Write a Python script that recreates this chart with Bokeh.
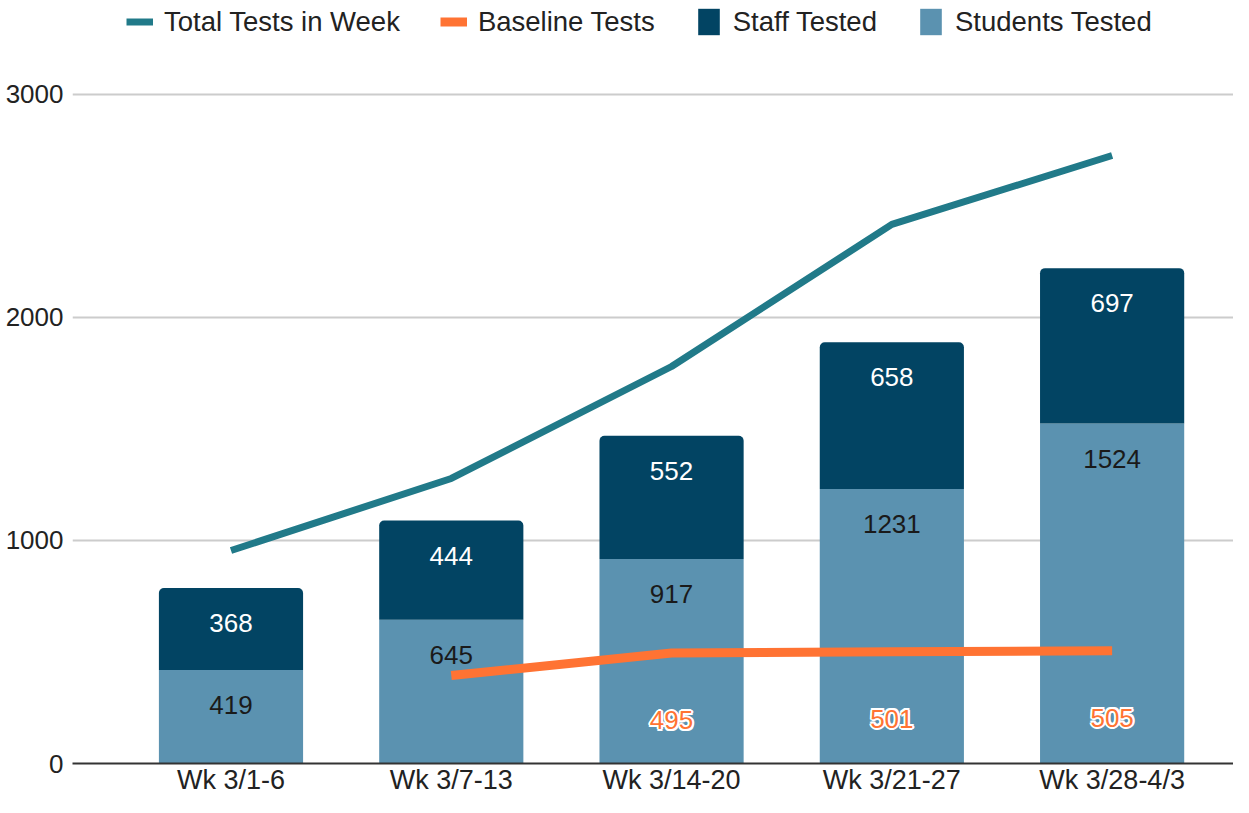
from bokeh.plotting import figure
from bokeh.models import ColumnDataSource, FixedTicker, Legend, LegendItem, Range1d
from bokeh.core.properties import value
from bokeh.embed import file_html
from bokeh.resources import INLINE

# ---- data ----
weeks = ["Wk 3/1-6", "Wk 3/7-13", "Wk 3/14-20", "Wk 3/21-27", "Wk 3/28-4/3"]
students_tested = [419, 645, 917, 1231, 1524]
staff_tested = [368, 444, 552, 658, 697]
total_tests = [955, 1278, 1780, 2417, 2726]
baseline_tests = [None, 395, 495, 501, 505]
baseline_labeled = [False, False, True, True, True]
y_ticks = [0, 1000, 2000, 3000]

# ---- styles ----
FONT = "Liberation Sans"
C_STAFF = "#024463"
C_STUD = "#5b92b0"
C_TOTAL = "#217a89"
C_BASE = "#ff7333"

x = list(range(len(weeks)))
stud_top = students_tested
staff_top = [s + t for s, t in zip(students_tested, staff_tested)]

src = ColumnDataSource(dict(
    x=x, stud=students_tested, staff=staff_tested,
    stud_top=stud_top, staff_top=staff_top,
    stud_lbl=[str(v) for v in students_tested],
    staff_lbl=[str(v) for v in staff_tested],
))

p = figure(width=1233, height=797, output_backend="svg", toolbar_location=None,
           x_range=Range1d(-0.7195, 4.551), y_range=Range1d(0, 3421),
           min_border_left=72, min_border_right=0, min_border_top=0, min_border_bottom=0)
p.outline_line_color = None
p.background_fill_color = "white"

bw = 0.6545
r_stud = p.vbar(x="x", bottom=0, top="stud_top", width=bw, source=src,
                fill_color=C_STUD, line_color=None)
r_staff = p.vbar(x="x", bottom="stud_top", top="staff_top", width=bw, source=src,
                 fill_color=C_STAFF, line_color=None, border_radius=(5, 5, 0, 0))

# bar labels (inside end)
p.text(x="x", y="staff_top", text="staff_lbl", source=src, y_offset=35,
       text_align="center", text_baseline="middle", text_color="white",
       text_font=value(FONT), text_font_size="26px")
p.text(x="x", y="stud_top", text="stud_lbl", source=src, y_offset=35,
       text_align="center", text_baseline="middle", text_color="#1a1a1a",
       text_font=value(FONT), text_font_size="26px")

# lines
r_total = p.line(x=x, y=total_tests, line_color=C_TOTAL, line_width=7)
bx = [xi for xi, v in zip(x, baseline_tests) if v is not None]
by = [v for v in baseline_tests if v is not None]
r_base = p.line(x=bx, y=by, line_color=C_BASE, line_width=9)

# baseline labels with white halo
lx = [xi for xi, v, f in zip(x, baseline_tests, baseline_labeled) if f]
ly = [v for v, f in zip(baseline_tests, baseline_labeled) if f]
lt = [str(v) for v in ly]
lsrc = ColumnDataSource(dict(x=lx, y=ly, t=lt))
for dx, dy in [(-2, 0), (2, 0), (0, -2), (0, 2), (-1.5, -1.5), (1.5, -1.5), (-1.5, 1.5), (1.5, 1.5)]:
    p.text(x="x", y="y", text="t", source=lsrc, x_offset=dx, y_offset=67 + dy,
           text_align="center", text_baseline="middle", text_color="white",
           text_font=value(FONT), text_font_size="26px")
p.text(x="x", y="y", text="t", source=lsrc, y_offset=67,
       text_align="center", text_baseline="middle", text_color=C_BASE,
       text_font=value(FONT), text_font_size="26px")

# axes
p.xaxis.ticker = FixedTicker(ticks=x)
p.xaxis.major_label_overrides = {i: w for i, w in enumerate(weeks)}
p.xaxis.major_label_text_font = FONT
p.xaxis.major_label_text_font_size = "27px"
p.xaxis.major_label_text_color = "#222222"
p.xaxis.major_label_standoff = 1
p.xaxis.major_tick_out = 0
p.xaxis.major_tick_in = 0
p.xaxis.major_tick_line_color = None
p.xaxis.minor_tick_line_color = None
p.xaxis.axis_line_color = "#333333"
p.xaxis.axis_line_width = 2

p.yaxis.ticker = FixedTicker(ticks=y_ticks)
p.yaxis.major_label_text_font = FONT
p.yaxis.major_label_text_font_size = "26px"
p.yaxis.major_label_text_color = "#222222"
p.yaxis.major_label_standoff = 9
p.yaxis.major_tick_out = 0
p.yaxis.major_tick_in = 0
p.yaxis.major_tick_line_color = None
p.yaxis.minor_tick_line_color = None
p.yaxis.axis_line_color = None

p.xgrid.grid_line_color = None
p.ygrid.grid_line_color = "#cccccc"
p.ygrid.grid_line_width = 2

legend = Legend(items=[
    LegendItem(label="Total Tests in Week", renderers=[r_total]),
    LegendItem(label="Baseline Tests", renderers=[r_base]),
    LegendItem(label="Staff Tested", renderers=[r_staff]),
    LegendItem(label="Students Tested", renderers=[r_stud]),
], orientation="horizontal", location=(54, 725), padding=0, margin=0,
    spacing=40, label_standoff=11, glyph_width=27, glyph_height=33,
    label_text_font=FONT, label_text_font_size="27.5px", label_text_color="#222222",
    border_line_color=None, background_fill_alpha=0)
p.add_layout(legend)

open("out.html", "w").write(file_html(p, INLINE))
